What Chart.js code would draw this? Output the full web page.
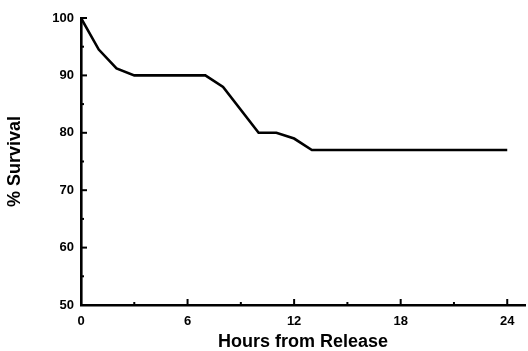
<!DOCTYPE html>
<html>
<head>
<meta charset="utf-8">
<script src="https://cdn.jsdelivr.net/npm/chart.js@4"></script>
<style>
  html, body { margin: 0; padding: 0; background: #fff; }
  #wrap { width: 528px; height: 351px; position: relative; }
</style>
</head>
<body>
<div id="wrap"><canvas id="c" width="528" height="351"></canvas></div>
<script>
const hours = [0, 1, 2, 3, 7, 8, 10, 11, 12, 13, 24];
const survival = [100, 94.5, 91.2, 90, 90, 88, 80, 80, 79, 77, 77];
const xTicks = [0, 6, 12, 18, 24];
const xMinorTicks = [3, 9, 15, 21];
const yTicks = [50, 60, 70, 80, 90, 100];
const yMinorTicks = [55, 65, 75, 85, 95];

const FONT = "'Liberation Sans', Arial, Helvetica, sans-serif";

const insideTicks = {
  id: 'insideTicks',
  afterDatasetsDraw(chart) {
    const ctx = chart.ctx;
    const xs = chart.scales.x, ys = chart.scales.y;
    const area = chart.chartArea;
    ctx.save();
    ctx.strokeStyle = '#000';
    ctx.lineWidth = 2;
    const drawX = (vals, len) => vals.forEach(v => {
      const px = xs.getPixelForValue(v);
      ctx.beginPath(); ctx.moveTo(px, area.bottom); ctx.lineTo(px, area.bottom - len); ctx.stroke();
    });
    const drawY = (vals, len) => vals.forEach(v => {
      const py = ys.getPixelForValue(v);
      ctx.beginPath(); ctx.moveTo(area.left, py); ctx.lineTo(area.left + len, py); ctx.stroke();
    });
    drawX(xTicks.slice(1), 6);
    drawX(xMinorTicks, 3);
    drawY(yTicks.slice(1), 6);
    drawY(yMinorTicks, 3);
    ctx.restore();
  }
};

new Chart(document.getElementById('c'), {
  type: 'line',
  data: {
    datasets: [{
      data: hours.map((h, i) => ({ x: h, y: survival[i] })),
      borderColor: '#000',
      borderWidth: 2.6,
      pointRadius: 0,
      tension: 0,
      fill: false
    }]
  },
  options: {
    responsive: false,
    animation: false,
    layout: { padding: { top: 18, right: 3, left: 0, bottom: 0 } },
    plugins: { legend: { display: false }, tooltip: { enabled: false } },
    scales: {
      x: {
        type: 'linear',
        min: 0, max: 25,
        afterBuildTicks: s => { s.ticks = xTicks.map(v => ({ value: v })); },
        afterFit: s => { s.height = 46; },
        grid: { display: false, drawTicks: false },
        border: { display: true, color: '#000', width: 2.6 },
        ticks: { color: '#000', padding: 9, maxRotation: 0, font: { family: FONT, size: 13, weight: 'bold' } },
        title: { display: true, text: 'Hours from Release', color: '#000', padding: { top: 0, bottom: 0 },
                 font: { family: FONT, size: 18, weight: 'bold', lineHeight: 1 } }
      },
      y: {
        type: 'linear',
        min: 50, max: 100,
        afterBuildTicks: s => { s.ticks = yTicks.map(v => ({ value: v })); },
        afterFit: s => { s.width = 81; },
        grid: { display: false, drawTicks: false },
        border: { display: true, color: '#000', width: 2.6 },
        ticks: { color: '#000', padding: 7, font: { family: FONT, size: 13, weight: 'bold' } },
        title: { display: true, text: '% Survival', color: '#000', padding: { top: 6, bottom: 0 },
                 font: { family: FONT, size: 18, weight: 'bold', lineHeight: 1 } }
      }
    }
  },
  plugins: [insideTicks]
});
</script>
</body>
</html>
